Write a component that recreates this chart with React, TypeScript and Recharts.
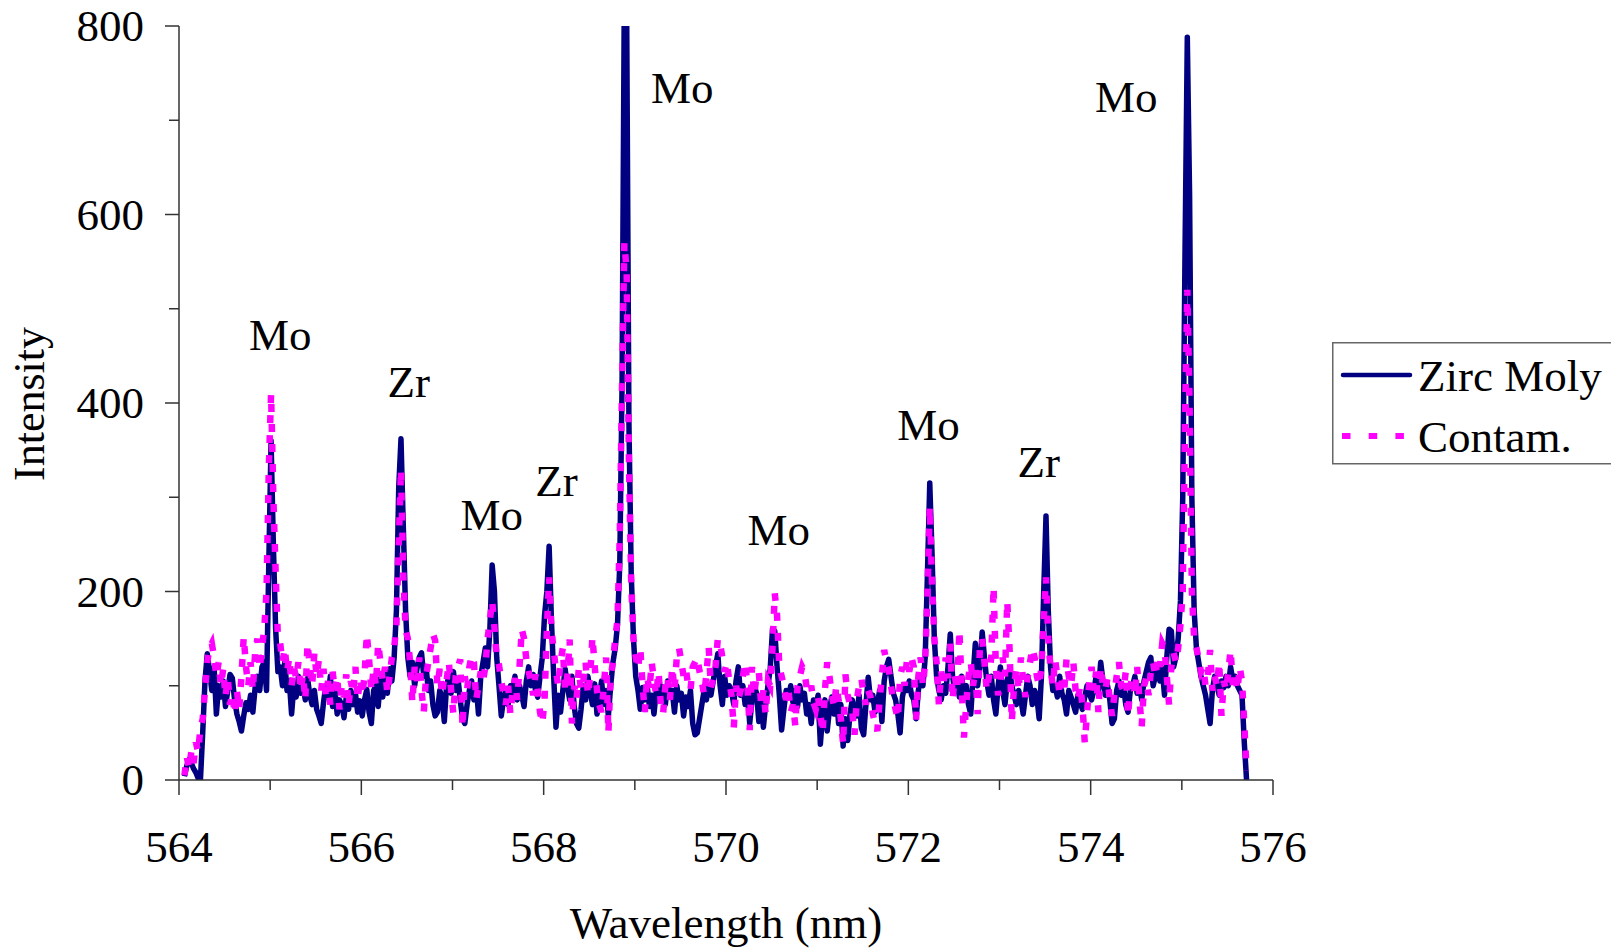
import { LineChart, Line, XAxis, YAxis, ReferenceDot } from "recharts";

const serif = '"Liberation Serif", "Times New Roman", serif';
const axisColor = "#333";

// spectrum is sampled on a regular grid: 564.06 nm + i * 0.025 nm
const wlStart = 564.06;
const wlStep = 0.025;

const zircMoly = [
  // 564.06 - 565.085
  4, 15, 22, 18, 12, 8, 2, 0, 50, 105, 134,
  115, 95, 120, 70, 100, 88, 105, 78, 95, 112, 108, 85, 70, 62, 52, 68, 82, 75, 90, 72,
  98, 110, 95, 120, 125, 95, 230, 360, 250, 160, 115,
  // 565.11 - 566.01
  120, 100, 125, 95, 105, 70, 100, 88, 110, 92, 100, 85, 108, 90, 80, 95, 75, 68, 60, 82,
  100, 88, 110, 78, 95, 70, 85, 80, 66, 88, 75, 95, 80, 92, 72, 84, 68,
  // 566.035 - 568.01
  85, 96, 72, 60, 95, 100, 78, 108, 88, 112, 92, 118, 105, 130, 180, 310, 362, 270, 180, 130,
  110, 125, 100, 118, 130, 135, 110, 120, 95, 105, 80, 68, 72, 95, 88, 62, 100, 110, 92, 115,
  95, 108, 85, 65, 60, 80, 95, 105, 85, 100, 70, 110, 125, 140, 120, 160, 228, 200, 130, 100,
  68, 85, 95, 80, 100, 92, 110, 85, 100, 90, 78, 105, 120, 100, 112, 95, 88, 110, 130, 175,
  // 568.035 - 570.035
  200, 248, 170, 110, 56, 90, 72, 95, 118, 100, 85, 110, 78, 60, 55, 75, 100, 85, 110, 95,
  80, 102, 70, 88, 105, 80, 95, 68, 100, 125, 140, 165, 230, 420, 840, 820, 380, 220, 150, 110,
  95, 75, 98, 85, 100, 78, 90, 70, 95, 85, 100, 90, 80, 105, 88, 95, 72, 100, 85, 92,
  68, 88, 78, 95, 60, 48, 50, 65, 80, 95, 85, 100, 90, 105, 120, 134, 100, 80, 110, 90, 100,
  // 570.06 - 572.035
  95, 80, 105, 120, 90, 100, 80, 95, 60, 85, 100, 92, 62, 90, 56, 80, 100, 118, 160, 158,
  120, 90, 53, 75, 95, 88, 100, 82, 95, 78, 100, 85, 92, 70, 80, 60, 85, 78, 90, 38,
  70, 85, 52, 75, 88, 70, 92, 60, 80, 36, 65, 42, 70, 85, 72, 68, 90, 55, 48, 80,
  109, 85, 90, 72, 80, 95, 62, 105, 120, 128, 110, 92, 85, 70, 50, 88, 100, 95, 105, 90,
  // 572.06 - 574.035
  85, 65, 95, 110, 100, 130, 220, 315, 240, 150, 110, 95, 85, 100, 92, 120, 155, 110, 95, 105,
  88, 110, 92, 100, 80, 70, 110, 145, 100, 120, 157, 130, 105, 90, 110, 85, 70, 100, 120, 95,
  80, 105, 118, 100, 90, 80, 95, 85, 70, 90, 110, 100, 80, 95, 88, 65, 110, 200, 280, 180,
  120, 95, 100, 88, 110, 92, 85, 70, 95, 88, 80, 72, 90, 82, 75, 88, 100, 92, 85, 95,
  // 574.06 - 575.71
  110, 95, 125, 105, 90, 100, 85, 60, 65, 95, 105, 90, 100, 80, 72, 95, 100, 110, 92, 100,
  85, 105, 115, 125, 130, 100, 110, 120, 105, 118, 90, 130, 160, 158, 120, 130, 150, 190, 300, 560,
  788, 620, 300, 180, 140, 125, 110, 100, 90, 75, 60, 95, 110, 100, 90, 105, 98, 110, 100, 120,
  105, 110, 100, 95, 90, 40, 0,
];

const contam = [
  // 564.06 - 566.01
  5, 25, 12, 30, 18, 40, 30, 55, 65, 95, 125, 140, 145, 130, 110, 125, 100, 118, 88, 108,
  80, 92, 70, 95, 75, 110, 152, 120, 100, 125, 95, 135, 150, 118, 140, 160, 200, 330, 410, 300,
  220, 150, 145, 125, 140, 115, 130, 100, 120, 108, 125, 95, 112, 85, 145, 120, 100, 135, 110, 128,
  95, 118, 90, 105, 80, 115, 95, 110, 75, 100, 88, 112, 78, 105, 92, 120, 85, 108, 90,
  // 566.035 - 568.01
  110, 155, 128, 95, 118, 100, 145, 125, 105, 120, 92, 110, 130, 140, 165, 250, 330, 220, 160, 150,
  125, 82, 120, 105, 130, 95, 72, 110, 125, 140, 155, 148, 100, 118, 90, 110, 105, 125, 95, 70,
  110, 120, 128, 56, 110, 95, 120, 132, 125, 85, 100, 115, 105, 120, 150, 170, 190, 162, 130, 122,
  105, 90, 80, 100, 70, 95, 108, 85, 120, 160, 150, 128, 115, 105, 90, 112, 95, 72, 60, 85,
  // 568.035 - 570.035
  160, 215, 160, 138, 115, 100, 125, 140, 95, 110, 149, 60, 100, 85, 118, 95, 105, 125, 90, 110,
  152, 120, 95, 80, 72, 100, 130, 50, 110, 125, 150, 170, 260, 420, 570, 540, 340, 210, 150, 130,
  118, 140, 100, 72, 110, 95, 125, 105, 90, 115, 80, 70, 100, 110, 85, 120, 95, 130, 140, 125,
  110, 118, 100, 95, 120, 125, 130, 115, 105, 90, 112, 141, 98, 108, 120, 150, 145, 130, 115, 125, 105,
  // 570.06 - 572.035
  90, 55, 100, 85, 95, 110, 125, 100, 53, 120, 90, 112, 115, 80, 95, 70, 105, 100, 140, 198,
  175, 120, 110, 100, 85, 95, 72, 80, 58, 100, 110, 120, 115, 98, 92, 100, 82, 75, 88, 70,
  50, 95, 125, 110, 90, 78, 100, 85, 65, 38, 112, 90, 80, 72, 48, 85, 100, 108, 90, 80,
  95, 88, 70, 60, 52, 85, 110, 138, 125, 118, 100, 85, 75, 65, 110, 120, 100, 128, 115, 130,
  // 572.06 - 574.035
  120, 64, 110, 130, 100, 125, 200, 290, 210, 150, 125, 80, 115, 100, 130, 108, 145, 85, 110, 95,
  159, 100, 45, 80, 110, 125, 100, 118, 70, 140, 150, 125, 95, 110, 130, 205, 120, 90, 105, 130,
  110, 190, 140, 62, 100, 118, 95, 130, 105, 88, 110, 125, 140, 130, 110, 100, 120, 170, 215, 150,
  118, 100, 128, 110, 90, 105, 95, 128, 110, 100, 125, 95, 85, 100, 80, 40, 70, 105, 120, 95,
  // 574.06 - 575.71
  115, 72, 120, 100, 95, 108, 85, 68, 90, 110, 125, 100, 95, 115, 68, 100, 110, 90, 120, 85,
  57, 100, 108, 90, 115, 125, 110, 130, 120, 145, 140, 110, 80, 120, 135, 125, 140, 165, 200, 380,
  520, 400, 200, 150, 140, 128, 115, 120, 100, 110, 138, 95, 110, 100, 125, 68, 105, 95, 115, 138,
  100, 110, 95, 120, 105, 60, 10,
];

const xTicks = [564, 565, 566, 567, 568, 569, 570, 571, 572, 573, 574, 575, 576];
const yTicks = [0, 100, 200, 300, 400, 500, 600, 700, 800];

// element labels above the lines: wavelength, intensity of text baseline
const lineNames = ["Mo", "Zr", "Mo", "Zr", "Mo", "Mo", "Mo", "Zr", "Mo"];
const lineNameWl = [565.11, 566.52, 567.43, 568.14, 569.52, 570.58, 572.22, 573.43, 574.39];
const lineNameY = [456, 406, 265, 301, 718, 249, 361, 321, 709];

const data = zircMoly.map((v, i) => ({
  wl: +(wlStart + i * wlStep).toFixed(3),
  zirc: v,
  contam: contam[i],
}));

function XTick(props: any) {
  const { x, y, payload } = props;
  const major = payload.value % 2 === 0;
  return (
    <g>
      <line x1={x} x2={x} y1={y} y2={y + (major ? 15 : 10)} stroke={axisColor} strokeWidth={1.5} />
      {major && (
        <text x={x} y={y + 82} textAnchor="middle" fontSize={45} fontFamily={serif} fill="#000">
          {payload.value}
        </text>
      )}
    </g>
  );
}

function YTick(props: any) {
  const { x, y, payload } = props;
  const major = payload.value % 200 === 0;
  return (
    <g>
      <line x1={x - (major ? 14 : 10)} x2={x} y1={y} y2={y} stroke={axisColor} strokeWidth={1.5} />
      {major && (
        <text x={x - 35} y={y + 15} textAnchor="end" fontSize={45} fontFamily={serif} fill="#000">
          {payload.value}
        </text>
      )}
    </g>
  );
}

function Legend() {
  return (
    <svg
      width={300}
      height={124}
      style={{ position: "absolute", left: 1332, top: 342 }}
    >
      <rect x={0.75} y={0.75} width={320} height={121} fill="#fff" stroke="#666" strokeWidth={1.5} />
      <line x1={11} x2={78} y1={33} y2={33} stroke="#000080" strokeWidth={4.5} strokeLinecap="round" />
      <text x={86} y={49} fontSize={45} fontFamily={serif} fill="#000">Zirc Moly</text>
      <line x1={10} x2={73} y1={94} y2={94} stroke="#FF00FF" strokeWidth={6} strokeDasharray="8.5 18.2" />
      <text x={86} y={110} fontSize={45} fontFamily={serif} fill="#000">Contam.</text>
    </svg>
  );
}

export default function App() {
  return (
    <div
      style={{
        position: "fixed",
        left: 0,
        top: 0,
        width: 1611,
        height: 949,
        overflow: "hidden",
        background: "#fff",
      }}
    >
      <LineChart width={1611} height={949} data={data} margin={{ top: 26, right: 338, left: 0, bottom: 0 }}>
        <XAxis
          dataKey="wl"
          type="number"
          domain={[564, 576]}
          ticks={xTicks}
          interval={0}
          height={169}
          tickSize={0}
          tickMargin={0}
          tickLine={false}
          tick={<XTick />}
          axisLine={{ stroke: axisColor, strokeWidth: 1.5 }}
          label={() => (
            <text x={726} y={938} textAnchor="middle" fontSize={45} fontFamily={serif} fill="#000">
              Wavelength (nm)
            </text>
          )}
        />
        <XAxis
          xAxisId="top"
          orientation="top"
          dataKey="wl"
          type="number"
          domain={[564, 576]}
          height={0}
          tick={false}
          tickLine={false}
          axisLine={{ stroke: "#000", strokeWidth: 1.5 }}
        />
        <YAxis
          type="number"
          domain={[0, 800]}
          ticks={yTicks}
          interval={0}
          width={179}
          allowDataOverflow
          tickSize={0}
          tickMargin={0}
          tickLine={false}
          tick={<YTick />}
          axisLine={{ stroke: axisColor, strokeWidth: 1.5 }}
          label={() => (
            <text
              x={44}
              y={404}
              transform="rotate(-90, 44, 404)"
              textAnchor="middle"
              fontSize={44}
              fontFamily={serif}
              fill="#000"
            >
              Intensity
            </text>
          )}
        />
        <YAxis
          yAxisId="right"
          orientation="right"
          type="number"
          domain={[0, 800]}
          width={0}
          tick={false}
          tickLine={false}
          axisLine={{ stroke: "#000", strokeWidth: 1.5 }}
        />
        <Line
          dataKey="zirc"
          type="linear"
          stroke="#000080"
          strokeWidth={5.5}
          strokeLinejoin="round"
          dot={false}
          isAnimationActive={false}
        />
        <Line
          dataKey="contam"
          type="linear"
          stroke="#FF00FF"
          strokeWidth={6.5}
          strokeDasharray="8 12"
          dot={false}
          isAnimationActive={false}
        />
        {lineNames.map((name, i) => (
          <ReferenceDot
            key={i}
            x={lineNameWl[i]}
            y={lineNameY[i]}
            r={0}
            shape={(p: any) => (
              <text x={p.cx} y={p.cy} textAnchor="middle" fontSize={45} fontFamily={serif} fill="#000">
                {name}
              </text>
            )}
          />
        ))}
      </LineChart>
      <Legend />
    </div>
  );
}
